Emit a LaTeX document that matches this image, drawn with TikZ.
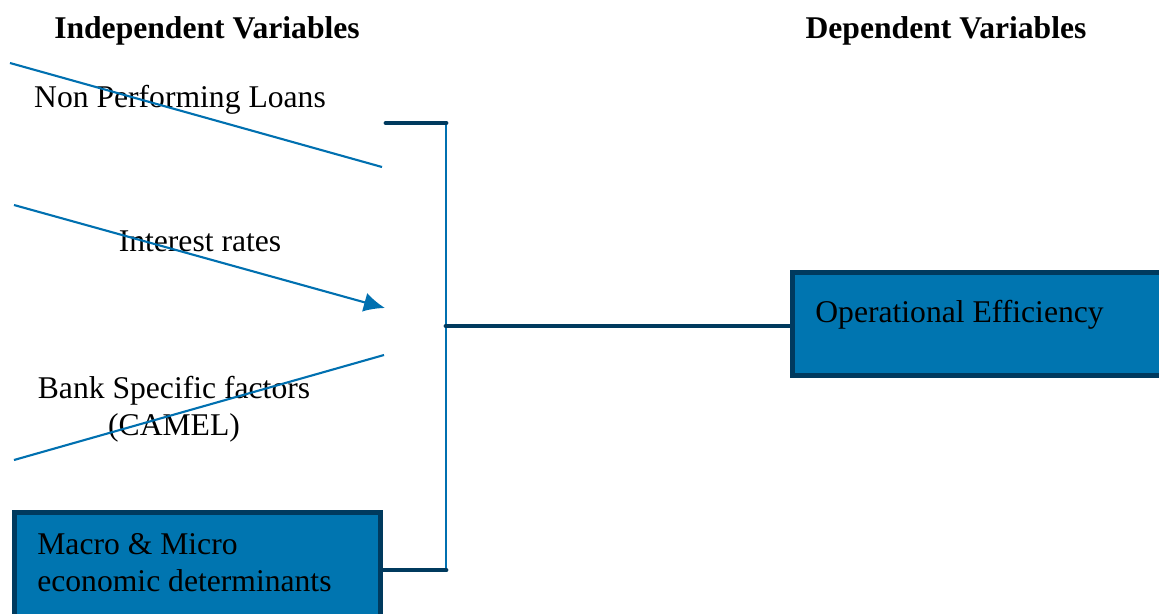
\documentclass[tikz,border=0pt]{standalone}
\usepackage{fontspec}
\setmainfont{Liberation Serif}
\usetikzlibrary{arrows.meta}
\definecolor{boxblue}{HTML}{0075B0}
\definecolor{navy}{HTML}{003A5E}
\definecolor{lineblue}{HTML}{0070B0}
\tikzset{
    thinline/.style={draw=lineblue, line width=1.2pt},
    bracket/.style={draw=navy, line width=2.8pt, line cap=round},
    varbox/.style={draw=navy, fill=boxblue, line width=2.8pt, inner sep=0pt},
    vartext/.style={font=\fontsize{18}{21}\selectfont, inner sep=0pt},
    heading/.style={font=\fontsize{18}{21}\selectfont\bfseries, inner sep=0pt}
}
\begin{document}
\begin{tikzpicture}[x=0.02cm, y=-0.02cm]
        \useasboundingbox (0,0) rectangle (1159,613);
        % headings
        \node[heading] (indep) at (207,31) {Independent Variables};
        \node[heading] (dep) at (946,31) {Dependent Variables};
        % variables
        \node[vartext] (npl) at (180,100) {Non Performing Loans};
        \node[vartext] (ir) at (200,241) {Interest rates};
        \node[vartext, align=center] (bsf) at (174,409) {Bank Specific factors\\(CAMEL)};
        \node[varbox, minimum width=7.32cm, minimum height=2.4cm, anchor=north west] (mm) at (12,510) {};
        \node[vartext, anchor=west, align=left] (mmtext) at (37,563) {Macro \& Micro\\economic determinants};
        \node[varbox, minimum width=8cm, minimum height=2.06cm, anchor=north west] (eff) at (790,270) {};
        \node[vartext, anchor=west] (efftext) at (815,315) {Operational Efficiency};
        % line ends
        \coordinate (nplS) at (10,63);
        \coordinate (nplE) at (382,167);
        \coordinate (irS) at (14,205);
        \coordinate (irE) at (385,308);
        \coordinate (bsfS) at (14,460);
        \coordinate (bsfE) at (384,355);
        \coordinate (topL) at (386,123);
        \coordinate (top) at (446,123);
        \coordinate (mid) at (446,326);
        \coordinate (bot) at (446,570);
        % lines
        \draw[thinline] (nplS) -- (nplE);
        \draw[thinline, -{Latex[length=12pt, width=11pt]}] (irS) -- (irE);
        \draw[thinline] (bsfS) -- (bsfE);
        \draw[thinline] (top) -- (bot);
        \draw[bracket] (topL) -- (top);
        \draw[bracket] (mm.east |- bot) -- (bot);
        \draw[bracket] (mid) -- (mid -| eff.west);
    \end{tikzpicture}
\end{document}
